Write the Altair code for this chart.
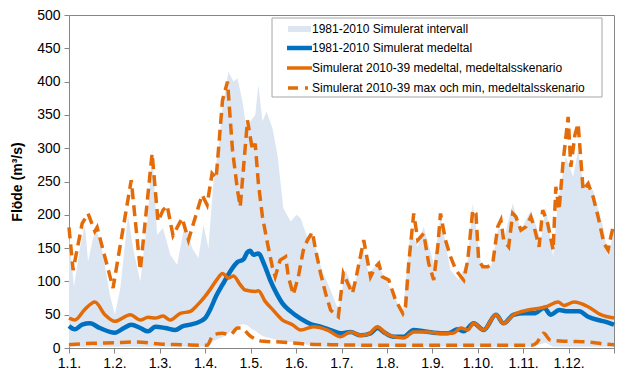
import altair as alt
import pandas as pd

# x positions are in months from 1 Jan (0 = 1.1., 12 = 31.12.)
band_x = [0.00, 0.11, 0.24, 0.35, 0.42, 0.53, 0.62, 0.75, 0.90, 1.01, 1.13, 1.30, 1.41, 1.57, 1.74, 1.83,
          1.94, 2.07, 2.23, 2.38, 2.56, 2.71, 2.85, 2.96, 3.07, 3.18, 3.29, 3.38, 3.51, 3.62, 3.71, 3.82,
          3.93, 3.99, 4.10, 4.17, 4.26, 4.35, 4.48, 4.59, 4.72, 4.88, 5.01, 5.10, 5.25, 5.36, 5.47, 5.58,
          5.76, 5.93, 6.09, 6.27, 6.46, 6.60, 6.79, 7.02, 7.24, 7.35, 7.52, 7.68, 7.81, 8.03, 8.18, 8.40,
          8.58, 8.78, 8.89, 9.07, 9.29, 9.46, 9.57, 9.77, 9.95, 10.17, 10.39, 10.50, 10.66, 10.77, 10.94,
          11.10, 11.21, 11.32, 11.54, 11.76, 11.87, 12.00]
band_hi = [170, 92, 150, 185, 130, 165, 175, 140, 80, 50, 90, 200, 150, 100, 200, 300,
           170, 180, 140, 125, 190, 150, 135, 185, 150, 250, 300, 360, 415, 400, 405, 370,
           320, 340, 350, 395, 340, 355, 330, 290, 210, 190, 200, 195, 165, 175, 140, 115,
           87, 57, 117, 87, 152, 112, 127, 97, 67, 52, 177, 152, 182, 127, 197, 117,
           102, 132, 217, 127, 122, 182, 162, 217, 177, 207, 162, 212, 137, 222, 287,
           257, 297, 247, 237, 182, 137, 177]
band_lo = [2, 2, 2, 2, 2, 2, 2, 2, 2, 2, 2, 2, 2, 2, 2, 2,
           2, 2, 2, 2, 2, 2, 2, 2, 4, 10, 14, 16, 22, 28, 32, 36,
           34, 30, 26, 22, 18, 16, 14, 12, 10, 9, 8, 7, 5, 4, 3, 2,
           2, 2, 2, 2, 2, 2, 2, 2, 2, 2, 2, 2, 2, 2, 2, 2,
           2, 2, 2, 2, 2, 2, 2, 2, 2, 2, 6, 8, 2, 2, 2,
           2, 2, 2, 2, 2, 2, 2]

blue_x = [0.00, 0.13, 0.29, 0.46, 0.68, 1.01, 1.21, 1.37, 1.57, 1.74, 1.90, 2.12, 2.34, 2.51, 2.67, 2.89,
          3.00, 3.11, 3.24, 3.38, 3.55, 3.71, 3.84, 3.93, 3.99, 4.06, 4.17, 4.30, 4.43, 4.57, 4.70, 4.88,
          5.10, 5.32, 5.54, 5.76, 5.98, 6.20, 6.42, 6.64, 6.79, 6.97, 7.15, 7.37, 7.59, 7.81, 8.03, 8.34,
          8.56, 8.69, 8.91, 9.13, 9.40, 9.57, 9.79, 10.02, 10.24, 10.46, 10.61, 10.79, 10.99, 11.23, 11.43,
          11.65, 11.78, 12.00]
blue_y = [33, 28, 35, 37, 30, 23, 30, 35, 30, 25, 32, 30, 27, 33, 35, 40,
          45, 58, 78, 95, 115, 129, 133, 144, 146, 140, 142, 125, 102, 82, 67, 55,
          44, 36, 32, 27, 22, 24, 19, 22, 30, 22, 17, 17, 27, 25, 23, 22,
          28, 25, 37, 27, 50, 37, 50, 52, 52, 60, 50, 57, 55, 55, 47,
          42, 40, 35]

orange_x = [0.00, 0.13, 0.35, 0.57, 0.79, 1.01, 1.35, 1.57, 1.74, 1.90, 2.07, 2.23, 2.45, 2.67, 2.82, 3.00,
            3.11, 3.26, 3.38, 3.51, 3.62, 3.77, 3.88, 4.10, 4.17, 4.32, 4.48, 4.70, 4.92, 5.10, 5.38, 5.69,
            5.98, 6.20, 6.42, 6.60, 6.79, 6.97, 7.15, 7.37, 7.59, 7.90, 8.18, 8.45, 8.63, 8.78, 8.91, 9.13,
            9.40, 9.57, 9.79, 10.11, 10.39, 10.54, 10.77, 10.90, 11.12, 11.43, 11.71, 12.00]
orange_y = [45, 42, 58, 69, 50, 40, 50, 42, 46, 45, 48, 42, 52, 55, 64, 78,
            88, 103, 112, 105, 108, 95, 87, 85, 86, 70, 58, 42, 35, 27, 32, 27,
            17, 24, 19, 21, 32, 22, 17, 15, 24, 24, 22, 22, 30, 27, 37, 27,
            50, 37, 50, 57, 60, 63, 69, 64, 69, 62, 50, 45]

max_x = [0.00, 0.09, 0.29, 0.42, 0.57, 0.62, 0.97, 1.37, 1.57, 1.83, 1.96, 2.07, 2.16, 2.29, 2.49, 2.63,
         2.93, 3.04, 3.15, 3.24, 3.38, 3.49, 3.60, 3.71, 3.77, 3.93, 4.04, 4.10, 4.17, 4.26, 4.37, 4.48,
         4.54, 4.65, 4.77, 4.83, 4.94, 5.05, 5.16, 5.25, 5.36, 5.43, 5.54, 5.65, 5.76, 5.93, 6.04, 6.24,
         6.31, 6.49, 6.57, 6.64, 6.75, 6.82, 6.90, 7.04, 7.19, 7.35, 7.41, 7.48, 7.59, 7.68, 7.81, 7.92,
         8.03, 8.12, 8.18, 8.29, 8.40, 8.52, 8.63, 8.69, 8.78, 8.89, 8.96, 9.02, 9.11, 9.22, 9.33, 9.44,
         9.51, 9.57, 9.68, 9.77, 9.84, 9.95, 10.06, 10.17, 10.24, 10.35, 10.43, 10.54, 10.66, 10.72, 10.79,
         10.88, 10.99, 11.05, 11.14, 11.21, 11.32, 11.43, 11.54, 11.65, 11.78, 11.87, 11.93, 12.00]
max_y = [181, 117, 187, 202, 175, 181, 90, 252, 117, 292, 190, 207, 214, 169, 195, 162,
         230, 215, 262, 255, 372, 400, 297, 237, 212, 342, 297, 307, 247, 197, 157, 121,
         107, 132, 137, 107, 80, 107, 147, 162, 174, 147, 112, 82, 57, 47, 112, 82,
         102, 162, 132, 107, 122, 127, 107, 102, 72, 52, 62, 127, 202, 162, 172, 127,
         102, 152, 202, 162, 137, 117, 107, 102, 132, 207, 202, 132, 122, 122, 127, 182,
         192, 162, 152, 202, 197, 177, 182, 197, 182, 152, 207, 187, 147, 242, 207,
         280, 347, 272, 320, 337, 237, 247, 227, 197, 157, 147, 167, 187]

min_x = [0.00, 0.50, 1.00, 1.50, 2.00, 2.50, 3.04, 3.18, 3.38, 3.55, 3.71, 3.79, 3.99, 4.28, 4.65, 5.21,
         5.76, 7.00, 8.50, 10.20, 10.30, 10.45, 10.60, 11.00, 11.40, 11.80, 12.00]
min_y = [5, 7, 8, 9, 6, 5, 4, 20, 22, 20, 30, 30, 18, 10, 9, 6,
         5, 4, 4, 4, 8, 22, 12, 10, 9, 6, 5]

y_ticks = [0, 50, 100, 150, 200, 250, 300, 350, 400, 450, 500]
x_ticks = [0, 1, 2, 3, 4, 5, 6, 7, 8, 9, 10, 11, 12]

labels = ["1981-2010 Simulerat intervall",
          "1981-2010 Simulerat medeltal",
          "Simulerat 2010-39 medeltal, medeltalsskenario",
          "Simulerat 2010-39 max och min, medeltalsskenario"]

BAND = "#dce6f2"
BLUE = "#0070c0"
ORANGE = "#e36c09"
FONT = "Liberation Sans"

band_df = pd.DataFrame({"m": band_x, "lo": band_lo, "hi": band_hi})
blue_df = pd.DataFrame({"m": blue_x, "v": blue_y})
orange_df = pd.DataFrame({"m": orange_x, "v": orange_y})
max_df = pd.DataFrame({"m": max_x, "v": max_y})
min_df = pd.DataFrame({"m": min_x, "v": min_y})

xscale = alt.Scale(domain=[0, 12], nice=False, zero=False)
yscale = alt.Scale(domain=[0, 500], nice=False)

xaxis = alt.Axis(title=None, values=x_ticks, grid=False,
                 labelExpr="datum.value < 12 ? '1.' + (datum.value + 1) + '.' : ''",
                 labelFont=FONT, labelFontSize=14, labelColor="#000", labelPadding=3,
                 labelFlush=False, labelOverlap=False,
                 tickSize=5, tickColor="#868686", domainColor="#868686")
yaxis = alt.Axis(title="Flöde (m³/s)", values=y_ticks, grid=False,
                 labelFont=FONT, labelFontSize=14, labelColor="#000", labelPadding=4,
                 labelOverlap=False, labelFlush=False,
                 tickSize=5, tickColor="#868686", domainColor="#868686",
                 titleFont=FONT, titleFontSize=14, titleFontWeight="bold", titleColor="#000",
                 titlePadding=12)

band = alt.Chart(band_df).mark_area(color=BAND, opacity=1).encode(
    x=alt.X("m:Q", scale=xscale, axis=xaxis),
    y=alt.Y("hi:Q", scale=yscale, axis=yaxis),
    y2="lo:Q")

def line(df, color, width, dash=None, interp="linear"):
    kw = dict(color=color, strokeWidth=width, interpolate=interp)
    if dash:
        kw["strokeDash"] = dash
    return alt.Chart(df).mark_line(**kw).encode(
        x=alt.X("m:Q", scale=xscale, axis=xaxis), y=alt.Y("v:Q", scale=yscale, axis=yaxis))

blue = line(blue_df, BLUE, 4.5, interp="monotone")
orange = line(orange_df, ORANGE, 3.5, interp="monotone")
mx = line(max_df, ORANGE, 3.5, [11, 6])
mn = line(min_df, ORANGE, 3.5, [11, 6], interp="monotone")

# legend box (pixel positions within the plot area)
leg_box = alt.Chart(pd.DataFrame({"a": [0]})).mark_rect(
    fill="white", stroke="#a6a6a6", strokeWidth=1).encode(
    x=alt.value(203), x2=alt.value(533), y=alt.value(3), y2=alt.value(82))

leg_df = pd.DataFrame({"label": labels, "py": [14, 33, 53, 73]})
leg_text = alt.Chart(leg_df).mark_text(
    align="left", baseline="middle", font=FONT, fontSize=12, color="#000").encode(
    x=alt.value(243), y=alt.Y("py:Q", scale=None), text="label:N")

one = pd.DataFrame({"a": [0]})
sym_area = alt.Chart(one).mark_rect(fill=BAND).encode(
    x=alt.value(219), x2=alt.value(242), y=alt.value(11), y2=alt.value(17))
sym_blue = alt.Chart(one).mark_rule(color=BLUE, strokeWidth=4.5).encode(
    x=alt.value(218), x2=alt.value(243), y=alt.value(33))
sym_orange = alt.Chart(one).mark_rule(color=ORANGE, strokeWidth=3.5).encode(
    x=alt.value(218), x2=alt.value(243), y=alt.value(53))
sym_dash = alt.Chart(one).mark_rule(color=ORANGE, strokeWidth=3.5, strokeDash=[10, 7, 3, 20]).encode(
    x=alt.value(219), x2=alt.value(243), y=alt.value(73))

chart = alt.layer(band, blue, orange, mx, mn, leg_box, sym_area, sym_blue, sym_orange, sym_dash,
                  leg_text).properties(
    width=545, height=333,
    autosize=alt.AutoSizeParams(type="none"),
    padding={"left": 61, "top": 7, "right": 1, "bottom": 28},
).configure_view(stroke="#868686", strokeWidth=1)

chart.save("out.html", embed_options={"renderer": "svg", "actions": False})
